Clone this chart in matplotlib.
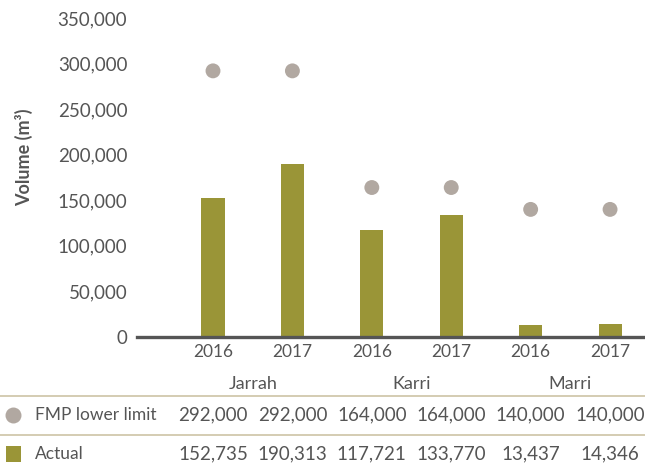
import matplotlib
matplotlib.use("Agg")
import matplotlib.pyplot as plt
import matplotlib.transforms as mtransforms
from matplotlib.patches import Rectangle
from matplotlib.lines import Line2D

plt.rcParams['font.family'] = ['Lato', 'DejaVu Sans']

years = ["2016", "2017", "2016", "2017", "2016", "2017"]
species = ["Jarrah", "Karri", "Marri"]
fmp_lower = [292000, 292000, 164000, 164000, 140000, 140000]
actual = [152735, 190313, 117721, 133770, 13437, 14346]
yticks = [0, 50000, 100000, 150000, 200000, 250000, 300000, 350000]

bar_col = "#9a9537"
dot_col = "#b1a8a1"
txt_col = "#555555"
rule_col = "#cdc4a6"

W, H = 645, 469
fig = plt.figure(figsize=(W / 100, H / 100), dpi=100)
ax = fig.add_axes([137 / W, (H - 337) / H, 508 / W, 319 / H])

x = list(range(len(years)))
ax.bar(x, actual, width=0.29, color=bar_col, zorder=2)
ax.scatter(x, fmp_lower, s=115, color=dot_col, edgecolors="none", zorder=3)

ax.set_xlim(-0.957, 5.44)
ax.set_ylim(0, 350000)
ax.set_yticks(yticks)
ax.set_yticklabels([f"{v:,}" for v in yticks], color=txt_col, fontsize=13.5)
ax.set_xticks(x)
ax.set_xticklabels(years, color=txt_col, fontsize=12.5)
ax.tick_params(axis="both", length=0)
ax.tick_params(axis="y", pad=7)
ax.tick_params(axis="x", pad=5)
for s in ["top", "right", "left"]:
    ax.spines[s].set_visible(False)
ax.spines["bottom"].set_color("#555555")
ax.spines["bottom"].set_linewidth(2.4)
ax.set_ylabel("Volume (m³)", color=txt_col, fontsize=13, fontweight="bold")
ax.yaxis.set_label_coords(-0.205, 0.564)

# table below the chart: x in data units, y in figure pixels
tr = mtransforms.blended_transform_factory(ax.transData, fig.transFigure)
fy = lambda py: (H - py) / H

for i, name in enumerate(species):
    ax.text(2 * i + 0.5, fy(384), name, transform=tr, ha="center", va="center",
            color=txt_col, fontsize=13)

for py in (396, 435):
    fig.add_artist(Line2D([0, 1], [fy(py), fy(py)], transform=fig.transFigure,
                          color=rule_col, lw=1.2))

# legend keys in the first column
fig.add_artist(Line2D([13 / W], [fy(415)], transform=fig.transFigure, ls="none",
                      marker="o", markersize=11.5, markerfacecolor=dot_col,
                      markeredgewidth=0))
fig.add_artist(Rectangle((6 / W, fy(462)), 15 / W, 16 / H, transform=fig.transFigure,
                         color=bar_col, ec="none"))
fig.text(35 / W, fy(415), "FMP lower limit", ha="left", va="center", color=txt_col, fontsize=12.5)
fig.text(35 / W, fy(454), "Actual", ha="left", va="center", color=txt_col, fontsize=12.5)

for i in x:
    ax.text(i, fy(415), f"{fmp_lower[i]:,}", transform=tr, ha="center", va="center",
            color=txt_col, fontsize=13.5)
    ax.text(i, fy(454), f"{actual[i]:,}", transform=tr, ha="center", va="center",
            color=txt_col, fontsize=13.5)

fig.savefig("out.png", dpi=100)
